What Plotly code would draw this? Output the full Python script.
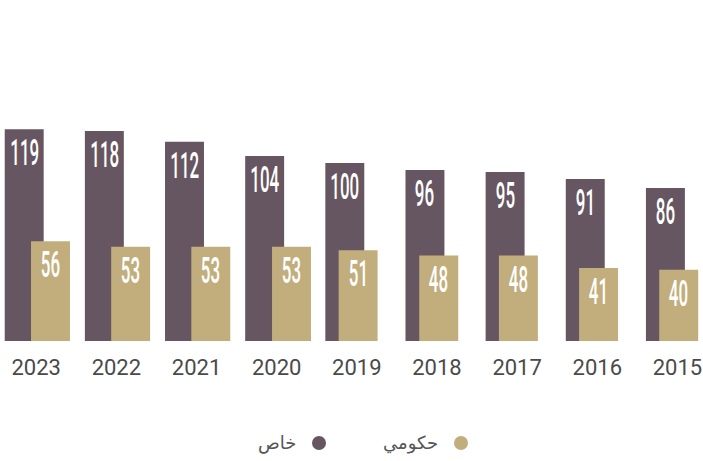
import plotly.graph_objects as go

# ---- data ----
years = ["2023", "2022", "2021", "2020", "2019", "2018", "2017", "2016", "2015"]
private = [119, 118, 112, 104, 100, 96, 95, 91, 86]      # خاص
government = [56, 53, 53, 53, 51, 48, 48, 41, 40]        # حكومي
series_names = ["خاص", "حكومي"]

# ---- style ----
DARK = "#665661"
TAN = "#C1AE7C"
W = 0.486
gov_shift = [0.328, 0.328, 0.328, 0.335, 0.166, 0.172, 0.166, 0.166, 0.166]
LABEL_FONT = "Roboto, DejaVu Sans, sans-serif"
FIG_W, FIG_H = 703, 461
PLOT_H = 341
PX_PER_UNIT = 1.78

idx = list(range(len(years)))

fig = go.Figure()
fig.add_bar(x=idx, y=private, width=W, offset=-W / 2, marker_color=DARK,
            marker_line_width=0, name=series_names[0], showlegend=False,
            hoverinfo="y")
fig.add_bar(x=idx, y=government, width=W,
            offset=[-W / 2 + s for s in gov_shift], marker_color=TAN,
            marker_line_width=0, name=series_names[1], showlegend=False,
            hoverinfo="y")

# value labels inside bar tops
for i, v in zip(idx, private):
    fig.add_annotation(x=i, y=v, text=str(v), showarrow=False, yanchor="top",
                       yshift=-1, font=dict(family=LABEL_FONT, size=36,
                                            weight=500, color="white"))
for i, v, s in zip(idx, government, gov_shift):
    fig.add_annotation(x=i + s, y=v, text=str(v), showarrow=False, yanchor="top",
                       yshift=-1, font=dict(family=LABEL_FONT, size=36,
                                            weight=500, color="white"))
N_LABELS = 2 * len(idx)

# legend (RTL style: text then marker)
def px_x(px):
    return px / FIG_W

def px_y(py):
    return (PLOT_H - py) / PLOT_H

legend_items = [(series_names[0], DARK, 298, 319), (series_names[1], TAN, 440, 461)]
for name, color, text_right, cx in legend_items:
    fig.add_annotation(xref="paper", yref="paper", x=px_x(text_right), y=px_y(443),
                       xanchor="right", yanchor="middle", text=name, showarrow=False,
                       font=dict(family="DejaVu Sans, Noto Sans", size=18, color="#555555"))
    fig.add_shape(type="circle", xref="paper", yref="paper",
                  xsizemode="pixel", ysizemode="pixel",
                  xanchor=px_x(cx), yanchor=px_y(443),
                  x0=-7, x1=7, y0=-7, y1=7, fillcolor=color, line_width=0)

fig.update_layout(
    width=FIG_W, height=FIG_H, autosize=False,
    margin=dict(l=0, r=0, t=0, b=FIG_H - PLOT_H, pad=0),
    barmode="overlay",
    paper_bgcolor="white", plot_bgcolor="white",
    showlegend=False,
    xaxis=dict(range=[-0.302, 8.469], tickmode="array",
               tickvals=[i + 0.15 for i in idx], ticktext=years,
               tickfont=dict(family="Roboto, Noto Sans", size=22, color="#4a4a4a"),
               showgrid=False, zeroline=False, showline=False, ticks="",
               ticklabelstandoff=11, fixedrange=True),
    yaxis=dict(range=[0, PLOT_H / PX_PER_UNIT], visible=False, fixedrange=True),
)

post = """
document.body.style.margin = '0';
document.body.style.overflow = 'hidden';
var gd = document.getElementById('{plot_id}');
function squeeze() {
  gd.querySelectorAll('g.annotation').forEach(function (g) {
    var i = +g.getAttribute('data-index');
    if (i < %d) {
      var t = g.querySelector('text.annotation-text');
      if (t) {
        t.style.transformBox = 'fill-box';
        t.style.transformOrigin = 'center';
        t.style.transform = 'scaleX(0.47)';
      }
    }
  });
}
squeeze();
setTimeout(squeeze, 0);
if (gd.on) { gd.on('plotly_afterplot', squeeze); }
""" % N_LABELS

fig.write_html("out.html", post_script=post, config={"displayModeBar": False})
